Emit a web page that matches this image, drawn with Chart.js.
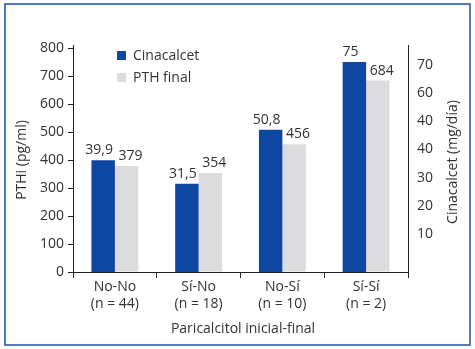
<!DOCTYPE html>
<html>
<head>
<meta charset="utf-8">
<script src="https://cdn.jsdelivr.net/npm/chart.js@4.4.1/dist/chart.umd.min.js"></script>
<style>
  body { margin: 0; background: #fff; }
  #wrap { width: 475px; height: 349px; }
</style>
</head>
<body>
<div id="wrap"><canvas id="grafico" width="475" height="349"></canvas></div>
<script>
// datos
const categorias = [['No-No', '(n = 44)'], ['Sí-No', '(n = 18)'], ['No-Sí', '(n = 10)'], ['Sí-Sí', '(n = 2)']];
const cinacalcet = [39.9, 31.5, 50.8, 75];
const pthFinal = [379, 354, 456, 684];
const ticksPTH = [0, 100, 200, 300, 400, 500, 600, 700, 800];
const ticksCina = [10, 20, 30, 40, 50, 60, 70];
const etiquetasCina = ['10', '20', '30', '40', '40', '60', '70'];

const azul = '#0d47a1';
const gris = '#dcdcde';
const texto = '#333333';
const fuente = "'Open Sans', sans-serif";

function sinPadding(scale) {
    scale.paddingTop = 0;
    scale.paddingBottom = 0;
    scale.paddingLeft = 0;
    scale.paddingRight = 0;
}

const extras = {
    id: 'extras',
    afterDatasetsDraw(chart) {
        const ctx = chart.ctx;
        ctx.save();
        ctx.font = '14px ' + fuente;
        ctx.fillStyle = texto;
        ctx.textAlign = 'center';
        ctx.textBaseline = 'alphabetic';
        chart.data.datasets.forEach((ds, i) => {
            const meta = chart.getDatasetMeta(i);
            meta.data.forEach((bar, j) => {
                const v = ds.data[j];
                const txt = i === 0 ? String(v).replace('.', ',') : String(v);
                const dx = i === 0 ? -4 : 4;
                ctx.fillText(txt, bar.x + dx, bar.y - 6);
            });
        });

        // leyenda
        ctx.textAlign = 'left';
        ctx.textBaseline = 'middle';
        chart.data.datasets.forEach((ds, i) => {
            const cy = 56 + i * 22;
            ctx.fillStyle = ds.backgroundColor;
            ctx.fillRect(117, cy - 5, 9, 9);
            ctx.fillStyle = texto;
            ctx.fillText(ds.label, 133, cy);
        });

        // titulos de ejes
        ctx.textAlign = 'center';
        ctx.save();
        ctx.translate(22, 160);
        ctx.rotate(-Math.PI / 2);
        ctx.fillText('PTHi (pg/ml)', 0, 0);
        ctx.restore();
        ctx.save();
        ctx.translate(453, 162);
        ctx.rotate(-Math.PI / 2);
        ctx.fillText('Cinacalcet (mg/día)', 0, 0);
        ctx.restore();
        ctx.fillText('Paricalcitol inicial-final', 243, 329);

        // marco
        ctx.strokeStyle = '#1c4fa0';
        ctx.lineWidth = 1.5;
        ctx.strokeRect(5, 4, 465, 341);
        ctx.restore();
    }
};

const ctx = document.getElementById('grafico').getContext('2d');
new Chart(ctx, {
    type: 'bar',
    data: {
        labels: categorias,
        datasets: [{
            label: 'Cinacalcet',
            data: cinacalcet,
            backgroundColor: azul,
            yAxisID: 'yC'
        }, {
            label: 'PTH final',
            data: pthFinal,
            backgroundColor: gris,
            yAxisID: 'y'
        }]
    },
    options: {
        responsive: false,
        animation: false,
        layout: { padding: { top: 45, left: 0, right: 0, bottom: 0 } },
        datasets: { bar: { categoryPercentage: 0.56, barPercentage: 1 } },
        plugins: {
            legend: { display: false },
            tooltip: { enabled: false }
        },
        scales: {
            x: {
                offset: true,
                grid: { offset: true, drawOnChartArea: false, tickLength: 6, color: '#222' },
                border: { color: '#222', width: 1 },
                ticks: { color: texto, font: { family: fuente, size: 14 }, padding: 1, maxRotation: 0 },
                afterFit(scale) { scale.height = 77; sinPadding(scale); }
            },
            y: {
                position: 'left',
                min: 0,
                max: 811,
                afterBuildTicks(scale) { scale.ticks = ticksPTH.map(v => ({ value: v })); },
                grid: { drawOnChartArea: false, tickLength: 5, color: '#222' },
                border: { color: '#222', width: 1 },
                ticks: { color: texto, font: { family: fuente, size: 14 }, padding: 4 },
                afterFit(scale) { scale.width = 73; sinPadding(scale); }
            },
            yR: {
                position: 'right',
                min: -3.5,
                max: 77.1,
                afterBuildTicks(scale) { scale.ticks = ticksCina.map(v => ({ value: v })); },
                grid: { drawOnChartArea: false, drawTicks: false, tickLength: 0 },
                border: { color: '#222', width: 1 },
                ticks: {
                    color: texto,
                    font: { family: fuente, size: 14 },
                    padding: 9,
                    callback: (v, i) => etiquetasCina[i]
                },
                afterFit(scale) { scale.width = 67; sinPadding(scale); }
            },
            yC: {
                display: false,
                min: 0,
                max: 81.1
            }
        }
    },
    plugins: [extras]
});
</script>
</body>
</html>
